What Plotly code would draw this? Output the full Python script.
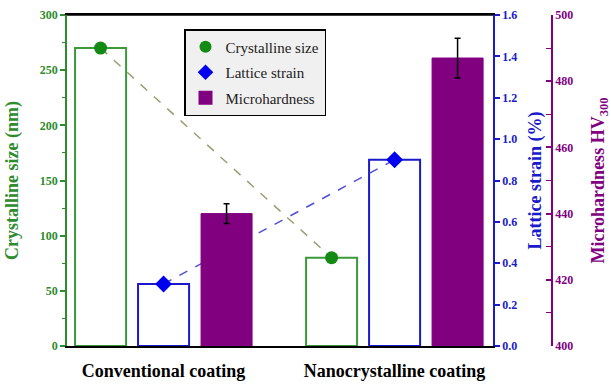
import plotly.graph_objects as go

categories = ["Conventional coating", "Nanocrystalline coating"]
crystalline_size = [270, 80]
lattice_strain = [0.30, 0.90]
microhardness = [440, 487]
microhardness_err = [3, 6]

GREEN = "#2e8b2e"
BLUE = "#1a1acc"
PURPLE = "#800080"
SERIF = "Liberation Serif"

fig = go.Figure()

# Bars
fig.add_trace(go.Bar(x=categories, y=crystalline_size, offsetgroup="a", yaxis="y",
                     marker=dict(color="white", line=dict(color="#3a9a3a", width=2)),
                     showlegend=False))
fig.add_trace(go.Bar(x=categories, y=lattice_strain, offsetgroup="b", yaxis="y2",
                     marker=dict(color="white", line=dict(color=BLUE, width=2)),
                     showlegend=False))
fig.add_trace(go.Bar(x=categories, y=microhardness, offsetgroup="c", yaxis="y3",
                     marker=dict(color=PURPLE, line=dict(color=PURPLE, width=1)),
                     error_y=dict(type="data", array=microhardness_err, color="black",
                                  thickness=1.5, width=3),
                     name="Microhardness", showlegend=True, legendrank=3, legendgroup="g3"))

# Dashed connecting lines
fig.add_trace(go.Scatter(x=categories, y=crystalline_size, offsetgroup="a", yaxis="y",
                         mode="lines", line=dict(color="#9c9c72", width=1.5, dash="dash"),
                         showlegend=False))
fig.add_trace(go.Scatter(x=categories, y=lattice_strain, offsetgroup="b", yaxis="y2",
                         mode="lines", line=dict(color="#5050d8", width=1.5, dash="dash"),
                         showlegend=False))
# Markers
fig.add_trace(go.Scatter(x=categories, y=crystalline_size, offsetgroup="a", yaxis="y",
                         mode="markers", marker=dict(color="#138a13", size=13, symbol="circle"),
                         name="Crystalline size", legendrank=1, legendgroup="g1"))
fig.add_trace(go.Scatter(x=categories, y=lattice_strain, offsetgroup="b", yaxis="y2",
                         mode="markers", marker=dict(color="#0000ee", size=13, symbol="diamond"),
                         name="Lattice strain", legendrank=2, legendgroup="g2"))

W, H = 611, 384
ml, mr, mt, mb = 67, 59, 15, 38
pw = W - ml - mr
ph = H - mt - mb

fig.update_layout(
    width=W, height=H,
    margin=dict(l=ml, r=mr, t=mt, b=mb),
    paper_bgcolor="white", plot_bgcolor="white",
    barmode="group", scattermode="group",
    bargap=0.182, bargroupgap=0.19,
    font=dict(family=SERIF),
    xaxis=dict(domain=[0, (493 - ml) / pw], range=[-0.418, 1.426], automargin=False,
               showline=True, linecolor="black", linewidth=1.5, mirror=True,
               ticks="", showgrid=False, zeroline=False,
               tickfont=dict(size=18, color="black", family=SERIF, weight="bold"),
               ticklabelstandoff=8),
    yaxis=dict(range=[0, 300], tickvals=[0, 50, 100, 150, 200, 250, 300], automargin=False,
               showline=True, linecolor=GREEN, linewidth=1.5,
               ticks="outside", ticklen=5, tickcolor=GREEN, tickwidth=1.5,
               minor=dict(dtick=25, ticks="outside", ticklen=3, tickcolor=GREEN, tickwidth=1),
               showgrid=False, zeroline=False,
               tickfont=dict(size=12, color=GREEN, family=SERIF, weight="bold"),
               title=dict(text="Crystalline size (nm)", standoff=17,
                          font=dict(size=18, color=GREEN, family=SERIF, weight="bold"))),
    yaxis2=dict(range=[0, 1.6], dtick=0.2, tickformat=".1f", overlaying="y", side="right",
                anchor="x", automargin=False,
                showline=True, linecolor=BLUE, linewidth=1.5,
                ticks="outside", ticklen=5, tickcolor=BLUE, tickwidth=1.5,
                showgrid=False, zeroline=False,
                tickfont=dict(size=12, color=BLUE, family=SERIF, weight="bold"),
                title=dict(text="Lattice strain (%)", standoff=12,
                           font=dict(size=18, color=BLUE, family=SERIF, weight="bold"))),
    yaxis3=dict(range=[400, 500], dtick=20, overlaying="y", side="right",
                anchor="free", position=(552 - ml) / pw, automargin=False,
                showline=True, linecolor=PURPLE, linewidth=1.5,
                ticks="inside", ticklen=5, tickcolor=PURPLE, tickwidth=1.5,
                minor=dict(dtick=10, ticks="inside", ticklen=5, tickcolor=PURPLE, tickwidth=1),
                showgrid=False, zeroline=False,
                tickfont=dict(size=12, color=PURPLE, family=SERIF, weight="bold"),
                title=dict(text="Microhardness HV<sub>300</sub>", standoff=18,
                           font=dict(size=18, color=PURPLE, family=SERIF, weight="bold"))),
    legend=dict(x=(184 - ml) / pw, y=(346 - 29) / ph, xanchor="left", yanchor="top",
                bgcolor="#f0f0f0", bordercolor="black", borderwidth=1.5,
                font=dict(size=15, color="#222", family=SERIF),
                itemsizing="constant", itemwidth=30, tracegroupgap=3, entrywidth=128),
    shapes=[dict(type="line", xref="x domain", yref="y domain", x0=0, x1=1, y0=1, y1=1,
                 line=dict(color="black", width=1.5), layer="above")],
)

fig.write_html("out.html")
